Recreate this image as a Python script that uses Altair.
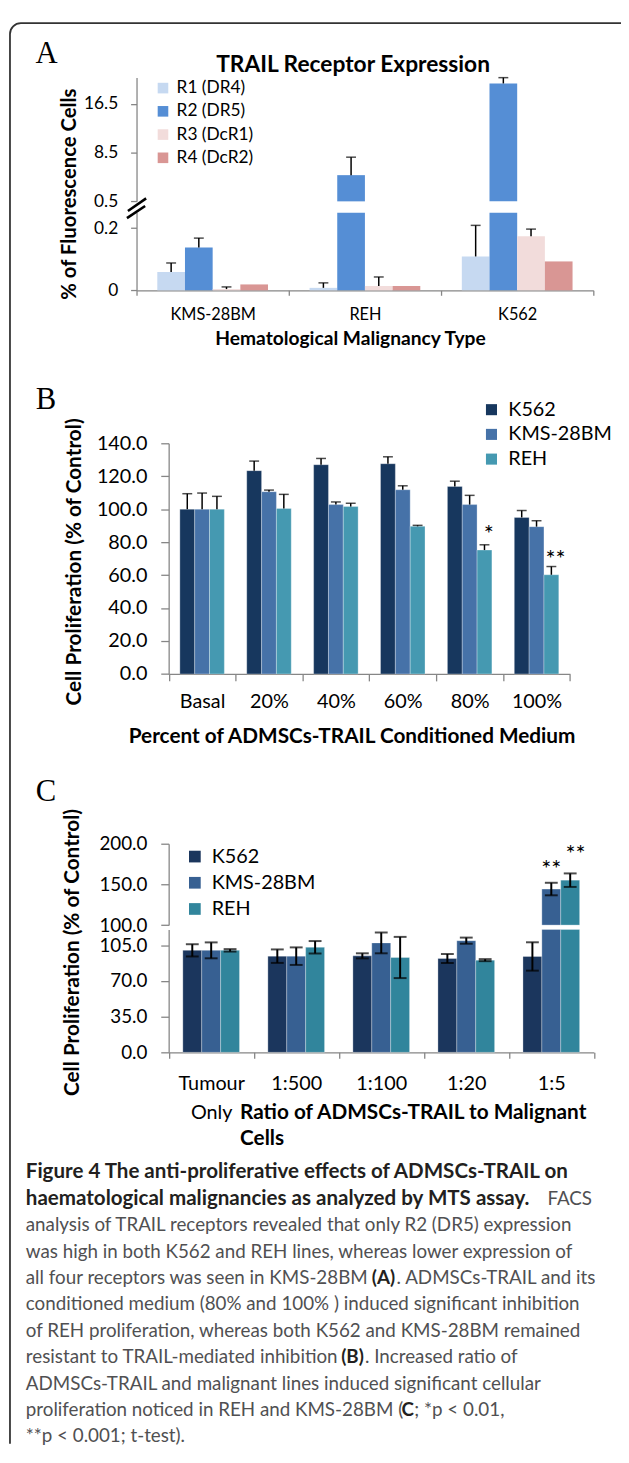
import altair as alt
import pandas as pd

# ------------------------------------------------------------------ layout
W, H = 619, 1438          # view (= figure frame) size
OX, OY = 9, 14            # page position of the view origin
FONT = "Lato"
SERIF = "Liberation Serif"
GREY = "#868686"


def px(x):
    return x - OX


def py(y):
    return y - OY


# ------------------------------------------------------------------ data A
a_cells = ["KMS-28BM", "REH", "K562"]
a_receptors = ["R1 (DR4)", "R2 (DR5)", "R3 (DcR1)", "R4 (DcR2)"]
a_colors = ["#c6d9f1", "#558ed5", "#f2dcdb", "#d99694"]
a_r1 = [0.059, 0.008, 0.109]
a_r2 = [0.138, 4.8, 19.85]
a_r3 = [0.004, 0.014, 0.174]
a_r4 = [0.019, 0.014, 0.093]
a_r1_err = [0.029, 0.016, 0.100]
a_r2_err = [0.030, 2.95, 0.95]
a_r3_err = [0.007, 0.029, 0.023]
a_r4_err = [0.0, 0.0, 0.0]
a_low_domain = [0, 0.25]
a_high_domain = [0.5, 20.83]
a_low_ticks = [0, 0.2]
a_high_ticks = [0.5, 8.5, 16.5]

# ------------------------------------------------------------------ data B
b_conc = ["Basal", "20%", "40%", "60%", "80%", "100%"]
b_lines = ["K562", "KMS-28BM", "REH"]
b_colors = ["#17375e", "#4672a8", "#4599b1"]
b_k562 = [100.0, 123.4, 127.0, 127.6, 113.8, 95.0]
b_kms = [100.0, 110.6, 102.8, 111.8, 102.8, 89.4]
b_reh = [100.0, 100.4, 101.6, 89.6, 75.2, 60.2]
b_k562_err = [9.4, 5.8, 3.8, 4.2, 3.2, 4.2]
b_kms_err = [9.8, 1.0, 1.6, 2.4, 5.6, 3.6]
b_reh_err = [7.8, 8.6, 2.0, 0.6, 3.2, 5.0]
b_domain = [0, 140]
b_ticks = [0, 20, 40, 60, 80, 100, 120, 140]
b_sig_conc = ["80%", "100%"]
b_sig_line = ["REH", "REH"]
b_sig_text = ["*", "**"]
b_sig_y = [80.0, 65.0]

# ------------------------------------------------------------------ data C
c_ratio = ["Tumour Only", "1:500", "1:100", "1:20", "1:5"]
c_lines = ["K562", "KMS-28BM", "REH"]
c_colors = ["#1b365d", "#376092", "#31859c"]
c_k562 = [100.0, 94.3, 94.6, 92.0, 94.0]
c_kms = [100.0, 94.3, 107.3, 109.5, 144.3]
c_reh = [100.0, 103.0, 93.0, 90.4, 155.2]
c_k562_err = [6.0, 6.6, 2.5, 4.4, 13.9]
c_kms_err = [7.8, 8.6, 10.2, 3.0, 7.7]
c_reh_err = [1.2, 6.1, 20.2, 1.0, 8.3]
c_low_domain = [0, 120.5]
c_high_domain = [100, 200]
c_low_ticks = [0, 35, 70, 105]
c_high_ticks = [100, 150, 200]
c_sig_ratio = ["1:5", "1:5"]
c_sig_line = ["KMS-28BM", "REH"]
c_sig_text = ["**", "**"]
c_sig_y = [159.5, 177.5]

# ------------------------------------------------------------------ caption
cap_bold_lines = [
    "Figure 4 The anti-proliferative effects of ADMSCs-TRAIL on",
    "haematological malignancies as analyzed by MTS assay.",
]
cap_body_lines = [
    "analysis of TRAIL receptors revealed that only R2 (DR5) expression",
    "was high in both K562 and REH lines, whereas lower expression of",
    "all four receptors was seen in KMS-28BM",
    "conditioned medium (80% and 100% ) induced significant inhibition",
    "of REH proliferation, whereas both K562 and KMS-28BM remained",
    "resistant to TRAIL-mediated inhibition",
    "ADMSCs-TRAIL and malignant lines induced significant cellular",
    "proliferation noticed in REH and KMS-28BM (",
    "**p < 0.001; t-test).",
]
cap_body_line_no = [2, 3, 4, 5, 6, 7, 8, 9, 10]

# inline fragments of mixed-weight caption lines
frag_line = [1, 4, 4, 7, 7, 9, 9]
frag_text = ["FACS", "(A)", ". ADMSCs-TRAIL and its", "(B)", ". Increased ratio of", "C",
             "; *p < 0.01,"]
frag_bold = [False, True, False, True, False, True, False]

# ------------------------------------------------------------------ helpers


def axis(**kw):
    base = dict(labelFont=FONT, labelColor="#000000", domainColor=GREY, tickColor=GREY,
                domainWidth=1.3, tickWidth=1.3, grid=False, title=None, labelAngle=0)
    base.update(kw)
    return alt.Axis(**base)


def txt(s, x, y, size, weight="normal", color="#000000", align="left",
        angle=0, baseline="alphabetic", font=FONT):
    return alt.Chart(pd.DataFrame({"label": [s]})).mark_text(
        align=align, baseline=baseline, fontSize=size, fontWeight=weight,
        color=color, angle=angle, font=font
    ).encode(x=alt.value(px(x)), y=alt.value(py(y)), text="label:N")


def legend(x, y, size, sym, row_pad, offset):
    return alt.Legend(orient="none", legendX=px(x), legendY=py(y), title=None,
                      symbolType="square", symbolSize=sym, symbolStrokeWidth=0,
                      symbolOpacity=1, labelFont=FONT, labelFontSize=size,
                      labelColor="#000000", rowPadding=row_pad, labelOffset=offset,
                      padding=0, offset=0)


layers = []

# frame (clipped so that only top/left edges show, as in the cropped figure)
layers.append(
    alt.Chart(pd.DataFrame({"f": [0]})).mark_rect(
        fill="#ffffff", fillOpacity=0, stroke="#333333", strokeWidth=1.8,
        cornerRadius=11, clip=True
    ).encode(x=alt.value(1), x2=alt.value(W + 30), y=alt.value(1), y2=alt.value(H + 30))
)

# ================================================================== PANEL A
dfA = pd.DataFrame({
    "cell": a_cells * 4,
    "rec": [r for r in a_receptors for _ in a_cells],
    "val": a_r1 + a_r2 + a_r3 + a_r4,
    "err": a_r1_err + a_r2_err + a_r3_err + a_r4_err,
})


def xA(ax=None):
    return alt.X("cell:N", sort=a_cells,
                 scale=alt.Scale(domain=a_cells, range=[px(138), px(600)],
                                 paddingInner=0, paddingOuter=0), axis=ax)


xoA = alt.XOffset("rec:N", sort=a_receptors,
                  scale=alt.Scale(domain=a_receptors, range=[0, 154],
                                  paddingInner=0, paddingOuter=0.75))


def yA_low(field="val", ax=None):
    return alt.Y(f"{field}:Q", scale=alt.Scale(domain=a_low_domain, range=[py(285.3), py(206.7)],
                                              clamp=True, nice=False, zero=False), axis=ax)


def yA_high(field="val", ax=None):
    return alt.Y(f"{field}:Q", scale=alt.Scale(domain=a_high_domain, range=[py(195.3), py(70)],
                                              clamp=True, nice=False, zero=False), axis=ax)


colA = alt.Color("rec:N", sort=a_receptors, scale=alt.Scale(domain=a_receptors, range=a_colors),
                 legend=legend(156, 72, 17.5, 115, 4.5, 5))
colA_nl = alt.Color("rec:N", sort=a_receptors, scale=alt.Scale(domain=a_receptors, range=a_colors),
                    legend=None)

axA_x = axis(orient="bottom", offset=py(285.3) - H, labelFontSize=16.5, labelPadding=11,
             tickSize=5, tickBand="extent")
axA_low = axis(orient="left", offset=-px(138), values=a_low_ticks, format="~g",
               labelFontSize=17.5, labelPadding=13, tickSize=6)
axA_high = axis(orient="left", offset=-px(138), values=a_high_ticks, format=".1f",
                labelFontSize=17.5, labelPadding=13, tickSize=6)

layers.append(alt.Chart(dfA).mark_bar().encode(
    x=xA(axA_x), xOffset=xoA, y=yA_low("val", axA_low), y2=alt.datum(0), color=colA))
layers.append(alt.Chart(dfA).transform_filter("datum.val > 0.5").mark_bar().encode(
    x=xA(), xOffset=xoA, y=yA_high("val", axA_high), y2=alt.datum(0.5), color=colA_nl))

errA_low = alt.Chart(dfA).transform_filter("datum.err > 0 && datum.val < 0.25").transform_calculate(
    hi="datum.val + datum.err")
layers.append(errA_low.mark_rule(color="#000000", strokeWidth=1.5).encode(
    x=xA(), xOffset=xoA, y=yA_low("val"), y2="hi:Q"))
layers.append(errA_low.mark_tick(color="#000000", thickness=1.5, size=10, orient="horizontal").encode(
    x=xA(), xOffset=xoA, y=yA_low("hi")))
errA_high = alt.Chart(dfA).transform_filter("datum.err > 0 && datum.val > 0.5").transform_calculate(
    hi="datum.val + datum.err")
layers.append(errA_high.mark_rule(color="#000000", strokeWidth=1.5).encode(
    x=xA(), xOffset=xoA, y=yA_high("val"), y2="hi:Q"))
layers.append(errA_high.mark_tick(color="#000000", thickness=1.5, size=10, orient="horizontal").encode(
    x=xA(), xOffset=xoA, y=yA_high("hi")))

# axis break marks
for (x1, y1, x2, y2) in [(129.3, 205, 147.7, 192.3), (128.3, 212.3, 146.7, 200)]:
    layers.append(alt.Chart(pd.DataFrame({"b": [0]})).mark_rule(
        color="#000000", strokeWidth=2.6).encode(
        x=alt.value(px(x1)), y=alt.value(py(y1)), x2=alt.value(px(x2)), y2=alt.value(py(y2))))

layers.append(txt("A", 35.7, 55, 31, font=SERIF))
layers.append(txt("TRAIL Receptor Expression", 357, 64, 23, "bold", align="center"))
layers.append(txt("% of Fluorescence Cells", 71, 188, 20.5, "bold", align="center",
                  angle=270, baseline="middle"))
layers.append(txt("Hematological Malignancy Type", 354.4, 341, 19.4, "bold", align="center"))

# ================================================================== PANEL B
dfB = pd.DataFrame({
    "conc": b_conc * 3,
    "line": [l for l in b_lines for _ in b_conc],
    "val": b_k562 + b_kms + b_reh,
    "err": b_k562_err + b_kms_err + b_reh_err,
})


def xB(ax=None):
    return alt.X("conc:N", sort=b_conc,
                 scale=alt.Scale(domain=b_conc, range=[px(170.5), px(576.4)],
                                 paddingInner=0, paddingOuter=0), axis=ax)


xoB = alt.XOffset("line:N", sort=b_lines,
                  scale=alt.Scale(domain=b_lines, range=[0, (576.4 - 170.5) / 6],
                                  paddingInner=0, paddingOuter=0.755))


def yB(field="val", ax=None):
    return alt.Y(f"{field}:Q", scale=alt.Scale(domain=b_domain, range=[py(673.3), py(440)],
                                              nice=False, zero=False), axis=ax)


axB_x = axis(orient="bottom", offset=py(673.3) - H, labelFontSize=20, labelPadding=11,
             tickSize=7, tickBand="extent")
axB_y = axis(orient="left", offset=-px(170.5), values=b_ticks, format=".1f",
             labelFontSize=20, labelPadding=14, tickSize=8)
colB = alt.Color("line:N", sort=b_lines, scale=alt.Scale(domain=b_lines, range=b_colors),
                 legend=legend(487, 396, 20, 125, 5, 7))

layers.append(alt.Chart(dfB).mark_bar(stroke="#ffffff", strokeWidth=0.6, strokeOpacity=0.5).encode(
    x=xB(axB_x), xOffset=xoB, y=yB("val", axB_y), y2=alt.datum(0), color=colB))
errB = alt.Chart(dfB).transform_calculate(hi="datum.val + datum.err")
layers.append(errB.mark_rule(color="#000000", strokeWidth=1.5).encode(
    x=xB(), xOffset=xoB, y=yB("val"), y2="hi:Q"))
layers.append(errB.mark_tick(color="#000000", thickness=1.5, size=10, orient="horizontal").encode(
    x=xB(), xOffset=xoB, y=yB("hi")))
dfBs = pd.DataFrame({"conc": b_sig_conc, "line": b_sig_line, "sig": b_sig_text, "y": b_sig_y})
layers.append(alt.Chart(dfBs).mark_text(font=FONT, fontSize=24, color="#000000",
                                        baseline="alphabetic").encode(
    x=xB(), xOffset=xoB, y=yB("y"), text="sig:N"))

layers.append(txt("B", 36, 405, 31, font=SERIF))
layers.append(txt("Cell Proliferation (% of Control)", 76, 560, 21, "bold", align="center",
                  angle=270, baseline="middle"))
layers.append(txt("Percent of ADMSCs-TRAIL Conditioned Medium", 356, 743, 21, "bold",
                  align="center"))

# ================================================================== PANEL C
dfC = pd.DataFrame({
    "ratio": c_ratio * 3,
    "line": [l for l in c_lines for _ in c_ratio],
    "val": c_k562 + c_kms + c_reh,
    "err": c_k562_err + c_kms_err + c_reh_err,
})


def xC(ax=None):
    return alt.X("ratio:N", sort=c_ratio,
                 scale=alt.Scale(domain=c_ratio, range=[px(170.5), px(600.5)],
                                 paddingInner=0, paddingOuter=0), axis=ax)


xoC = alt.XOffset("line:N", sort=c_lines,
                  scale=alt.Scale(domain=c_lines, range=[0, (600.5 - 170.5) / 5],
                                  paddingInner=0, paddingOuter=0.75))


def yC_low(field="val", ax=None):
    return alt.Y(f"{field}:Q", scale=alt.Scale(domain=c_low_domain, range=[py(1056), py(931.7)],
                                              clamp=True, nice=False, zero=False), axis=ax)


def yC_high(field="val", ax=None):
    return alt.Y(f"{field}:Q", scale=alt.Scale(domain=c_high_domain, range=[py(927.3), py(845)],
                                              clamp=True, nice=False, zero=False), axis=ax)


axC_x = axis(orient="bottom", offset=py(1056) - H, labelFontSize=20, labelPadding=16,
             tickSize=6, tickBand="extent", labelExpr="split(datum.label, ' ')",
             labelLineHeight=28.7)
axC_low = axis(orient="left", offset=-px(170.5), values=c_low_ticks, format=".1f",
               labelFontSize=19, labelPadding=14, tickSize=8)
axC_high = axis(orient="left", offset=-px(170.5), values=c_high_ticks, format=".1f",
                labelFontSize=19, labelPadding=14, tickSize=8)
colC = alt.Color("line:N", sort=c_lines, scale=alt.Scale(domain=c_lines, range=c_colors),
                 legend=legend(187, 848, 20, 140, 6.5, 7))
colC_nl = alt.Color("line:N", sort=c_lines, scale=alt.Scale(domain=c_lines, range=c_colors),
                    legend=None)

layers.append(alt.Chart(dfC).mark_bar(stroke="#ffffff", strokeWidth=0.6, strokeOpacity=0.5).encode(
    x=xC(axC_x), xOffset=xoC, y=yC_low("val", axC_low), y2=alt.datum(0), color=colC))
layers.append(alt.Chart(dfC).transform_filter("datum.val > 120.5").mark_bar(
    stroke="#ffffff", strokeWidth=0.6, strokeOpacity=0.5).encode(
    x=xC(), xOffset=xoC, y=yC_high("val", axC_high), y2=alt.datum(100), color=colC_nl))

errC_low = alt.Chart(dfC).transform_filter("datum.val < 120.5").transform_calculate(
    lo="datum.val - datum.err", hi="datum.val + datum.err")
layers.append(errC_low.mark_rule(color="#000000", strokeWidth=2).encode(
    x=xC(), xOffset=xoC, y=yC_low("lo"), y2="hi:Q"))
layers.append(errC_low.mark_tick(color="#000000", thickness=2, size=13, orient="horizontal").encode(
    x=xC(), xOffset=xoC, y=yC_low("lo")))
layers.append(errC_low.mark_tick(color="#000000", thickness=2, size=13, orient="horizontal").encode(
    x=xC(), xOffset=xoC, y=yC_low("hi")))
errC_high = alt.Chart(dfC).transform_filter("datum.val > 120.5").transform_calculate(
    lo="datum.val - datum.err", hi="datum.val + datum.err")
layers.append(errC_high.mark_rule(color="#000000", strokeWidth=2).encode(
    x=xC(), xOffset=xoC, y=yC_high("lo"), y2="hi:Q"))
layers.append(errC_high.mark_tick(color="#000000", thickness=2, size=13, orient="horizontal").encode(
    x=xC(), xOffset=xoC, y=yC_high("lo")))
layers.append(errC_high.mark_tick(color="#000000", thickness=2, size=13, orient="horizontal").encode(
    x=xC(), xOffset=xoC, y=yC_high("hi")))
dfCs = pd.DataFrame({"ratio": c_sig_ratio, "line": c_sig_line, "sig": c_sig_text, "y": c_sig_y})
layers.append(alt.Chart(dfCs).mark_text(font=FONT, fontSize=24, color="#000000",
                                        baseline="alphabetic").encode(
    x=xC(), xOffset=xoC, y=yC_high("y"), text="sig:N"))

layers.append(txt("C", 36, 801.7, 31, font=SERIF))
layers.append(txt("Cell Proliferation (% of Control)", 74, 955, 21, "bold", align="center",
                  angle=270, baseline="middle"))
layers.append(alt.Chart(pd.DataFrame({"t": [0]})).mark_text(
    align="left", baseline="alphabetic", font=FONT, fontSize=21, fontWeight="bold",
    color="#000000", lineHeight=27).encode(
    x=alt.value(px(242.7)), y=alt.value(py(1123)),
    text=alt.value(["Ratio of ADMSCs-TRAIL to Malignant", "Cells"])))

# ================================================================== CAPTION
CAP_X = 26
CAP_BOLD = "#231f20"
CAP_BODY = "#505052"
CAP_SIZE = 19.0
CAP_BSIZE = 20.8


def ycap():
    return alt.Y("line:Q", scale=alt.Scale(domain=[0, 10], range=[py(1183.5), py(1450.5)]),
                 axis=None)


dfCapB = pd.DataFrame({"line": [0, 1], "t": cap_bold_lines})
layers.append(alt.Chart(dfCapB).mark_text(
    align="left", baseline="alphabetic", font=FONT, fontSize=CAP_BSIZE, fontWeight="bold",
    color=CAP_BOLD).encode(x=alt.value(px(CAP_X)), y=ycap(), text="t:N"))
dfCapN = pd.DataFrame({"line": cap_body_line_no, "t": cap_body_lines})
layers.append(alt.Chart(dfCapN).mark_text(
    align="left", baseline="alphabetic", font=FONT, fontSize=CAP_SIZE, fontWeight="normal",
    color=CAP_BODY).encode(x=alt.value(px(CAP_X)), y=ycap(), text="t:N"))

frag_x = [553.6, 376, 401, 345, 369, 406, 419]
for ln, t, fx, fb in zip(frag_line, frag_text, frag_x, frag_bold):
    layers.append(alt.Chart(pd.DataFrame({"line": [ln], "t": [t]})).mark_text(
        align="left", baseline="alphabetic", font=FONT,
        fontSize=CAP_SIZE,
        fontWeight="bold" if fb else "normal",
        color=CAP_BOLD if fb else CAP_BODY).encode(
        x=alt.value(px(fx)), y=ycap(), text="t:N"))

chart = alt.layer(*layers).resolve_scale(
    x="independent", y="independent", xOffset="independent", color="independent"
).resolve_axis(x="independent", y="independent").resolve_legend(color="independent").properties(
    width=W, height=H, padding={"left": 1, "top": 6, "right": 0, "bottom": 0},
    background="#ffffff"
).configure_view(stroke=None)

chart.save("out.html", embed_options={"renderer": "svg", "actions": False})
